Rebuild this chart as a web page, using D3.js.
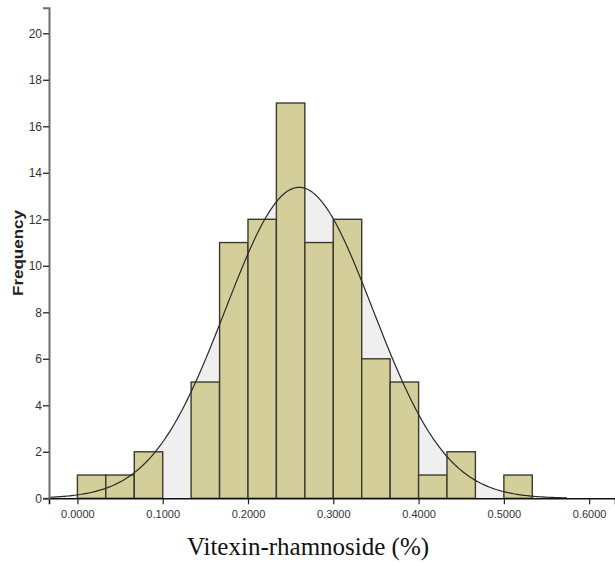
<!DOCTYPE html>
<html>
<head>
<meta charset="utf-8">
<script src="https://cdn.jsdelivr.net/npm/d3@7"></script>
<style>
  html, body { margin: 0; padding: 0; background: #fff; }
  svg { display: block; }
</style>
</head>
<body>
<svg id="chart" width="615" height="566"></svg>
<script>
// Histogram of vitexin-rhamnoside content with a fitted normal curve
const binStarts = [0.0000, 0.0333, 0.0667, 0.1000, 0.1333, 0.1667, 0.2000, 0.2333,
                   0.2667, 0.3000, 0.3333, 0.3667, 0.4000, 0.4333, 0.4667, 0.5000];
const binWidth = 1 / 30;
const counts = [1, 1, 2, 0, 5, 11, 12, 17, 11, 12, 6, 5, 1, 2, 0, 1];
const xTicks = [0, 0.1, 0.2, 0.3, 0.4, 0.5, 0.6];
const yTicks = [0, 2, 4, 6, 8, 10, 12, 14, 16, 18, 20];
const fitMean = 0.260;
const fitSd = 0.0865;
const curveRange = [-0.0333, 0.574];

const svg = d3.select("#chart");
const x = d3.scaleLinear().domain([-0.0333, 0.6303]).range([49, 615]);
const y = d3.scaleLinear().domain([0, 21.1]).range([498.3, 7.7]);

const total = d3.sum(counts);
const normal = v => total * binWidth / (fitSd * Math.sqrt(2 * Math.PI)) *
  Math.exp(-0.5 * ((v - fitMean) / fitSd) ** 2);
const curvePts = d3.range(300 + 1).map(i => {
  const v = curveRange[0] + (curveRange[1] - curveRange[0]) * i / 300;
  return [v, normal(v)];
});

// shaded area under the fitted curve
svg.append("path")
  .datum(curvePts)
  .attr("fill", "#efefef")
  .attr("d", d3.area().x(d => x(d[0])).y0(y(0)).y1(d => y(d[1])));

// bars
svg.append("g").selectAll("rect")
  .data(counts.map((c, i) => ({ start: binStarts[i], count: c })).filter(d => d.count > 0))
  .join("rect")
  .attr("x", d => x(d.start))
  .attr("width", d => x(d.start + binWidth) - x(d.start))
  .attr("y", d => y(d.count))
  .attr("height", d => y(0) - y(d.count))
  .attr("fill", "#d4cf9a")
  .attr("stroke", "#3b3a2c")
  .attr("stroke-width", 1.4);

// fitted curve line
svg.append("path")
  .datum(curvePts)
  .attr("fill", "none")
  .attr("stroke", "#2a2a2a")
  .attr("stroke-width", 1.2)
  .attr("d", d3.line().x(d => x(d[0])).y(d => y(d[1])));

// x axis
const xAxis = svg.append("g")
  .attr("transform", `translate(0,${y(0)})`)
  .call(d3.axisBottom(x).tickValues(xTicks).tickFormat(d3.format(".4f")).tickSizeOuter(0).tickSize(6).tickPadding(6));
xAxis.select(".domain").attr("stroke", "#111").attr("stroke-width", 1.6);
xAxis.selectAll(".tick line").attr("stroke", "#222").attr("stroke-width", 1.2);
xAxis.selectAll(".tick text")
  .attr("font-family", "'Liberation Sans', Arial, sans-serif")
  .attr("font-size", 11).attr("fill", "#333");

// y axis
const yAxis = svg.append("g")
  .attr("transform", `translate(${x(-0.0333)},0)`)
  .call(d3.axisLeft(y).tickValues(yTicks).tickSizeOuter(0).tickSize(6).tickPadding(1));
yAxis.select(".domain").attr("stroke", "#6e6e6e").attr("stroke-width", 2);
yAxis.selectAll(".tick line").attr("stroke", "#333").attr("stroke-width", 1.4);
yAxis.selectAll(".tick text")
  .attr("font-family", "'Liberation Sans', Arial, sans-serif")
  .attr("font-size", 12).attr("fill", "#333");

// axis titles
svg.append("text")
  .attr("transform", "translate(23,253) rotate(-90)")
  .attr("text-anchor", "middle")
  .attr("font-family", "'Liberation Sans', Arial, sans-serif")
  .attr("font-weight", "bold")
  .attr("font-size", 14)
  .attr("textLength", 86)
  .attr("lengthAdjust", "spacingAndGlyphs")
  .attr("fill", "#222")
  .text("Frequency");

svg.append("text")
  .attr("x", 308).attr("y", 555)
  .attr("text-anchor", "middle")
  .attr("font-family", "'Liberation Serif', 'Times New Roman', serif")
  .attr("font-size", 25)
  .attr("fill", "#111")
  .text("Vitexin-rhamnoside (%)");
</script>
</body>
</html>
